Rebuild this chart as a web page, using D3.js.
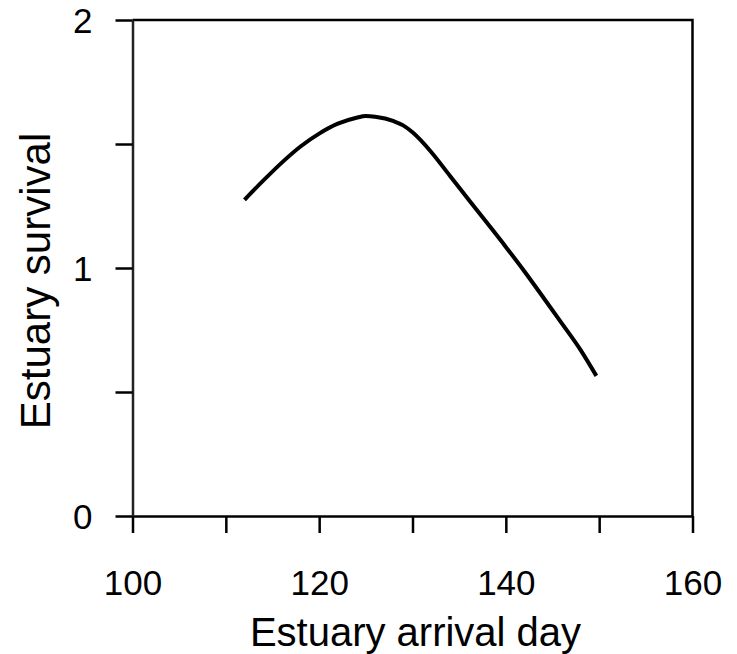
<!DOCTYPE html>
<html>
<head>
<meta charset="utf-8">
<script src="https://cdn.jsdelivr.net/npm/d3@7"></script>
<style>
body{margin:0;background:#fff;}
text{font-family:"Liberation Sans",Arial,sans-serif;fill:#000;}
</style>
</head>
<body>
<svg id="chart" width="737" height="654"></svg>
<script>
const arrivalDay = [112, 114, 116, 118, 120, 122, 124, 125, 126, 128, 129, 130, 132, 134, 136, 138, 140, 142, 144, 146, 148, 149.7];
const survival   = [1.275, 1.352, 1.425, 1.49, 1.542, 1.582, 1.606, 1.613, 1.61, 1.592, 1.575, 1.547, 1.468, 1.372, 1.276, 1.181, 1.085, 0.986, 0.882, 0.777, 0.67, 0.565];
const xTicks = [100, 110, 120, 130, 140, 150, 160];
const xTickLabels = ["100", "", "120", "", "140", "", "160"];
const yTicks = [0, 0.5, 1, 1.5, 2];
const yTickLabels = ["0", "", "1", "", "2"];
const xTitle = "Estuary arrival day";
const yTitle = "Estuary survival";

(function () {
const svg = d3.select("#chart");
const pL = 132.5, pR = 692.5, pT = 20, pB = 516;
const x = d3.scaleLinear().domain([100, 160]).range([pL, pR]);
const y = d3.scaleLinear().domain([0, 2]).range([pB, pT]);

svg.append("path")
  .attr("d", `M${pL},${pT}H${pR}V${pB}`)
  .attr("fill", "none").attr("stroke", "#000").attr("stroke-width", 2.5);

const xAxis = svg.append("g").attr("transform", `translate(0,${pB})`)
  .call(d3.axisBottom(x).tickValues(xTicks).tickSize(17).tickSizeOuter(0)
    .tickFormat((d, i) => xTickLabels[i]));
xAxis.select(".domain").attr("stroke-width", 2.5).attr("stroke", "#000");
xAxis.selectAll(".tick line").attr("stroke-width", 2.5);
xAxis.selectAll(".tick text").attr("font-size", 35).attr("fill", "#000").attr("y", 0).attr("dy", 79);

const yAxis = svg.append("g").attr("transform", `translate(${pL},0)`)
  .call(d3.axisLeft(y).tickValues(yTicks).tickSize(17).tickSizeOuter(0)
    .tickFormat((d, i) => yTickLabels[i]));
yAxis.select(".domain").attr("stroke-width", 2.5).attr("stroke", "#222");
yAxis.selectAll(".tick line").attr("stroke-width", 2.5);
yAxis.selectAll(".tick text").attr("font-size", 35).attr("fill", "#000").attr("x", -40).attr("dy", "0.36em");

const pts = arrivalDay.map((d, i) => [d, survival[i]]);
svg.append("path")
  .datum(pts)
  .attr("d", d3.line().x(d => x(d[0])).y(d => y(d[1])).curve(d3.curveMonotoneX))
  .attr("fill", "none").attr("stroke", "#000").attr("stroke-width", 4);

svg.append("text")
  .attr("x", (pL + pR) / 2 + 3).attr("y", 646)
  .attr("text-anchor", "middle").attr("font-size", 40).text(xTitle);

svg.append("text")
  .attr("transform", `translate(50,281) rotate(-90)`)
  .attr("text-anchor", "middle").attr("font-size", 42).text(yTitle);
})();
</script>
</body>
</html>
